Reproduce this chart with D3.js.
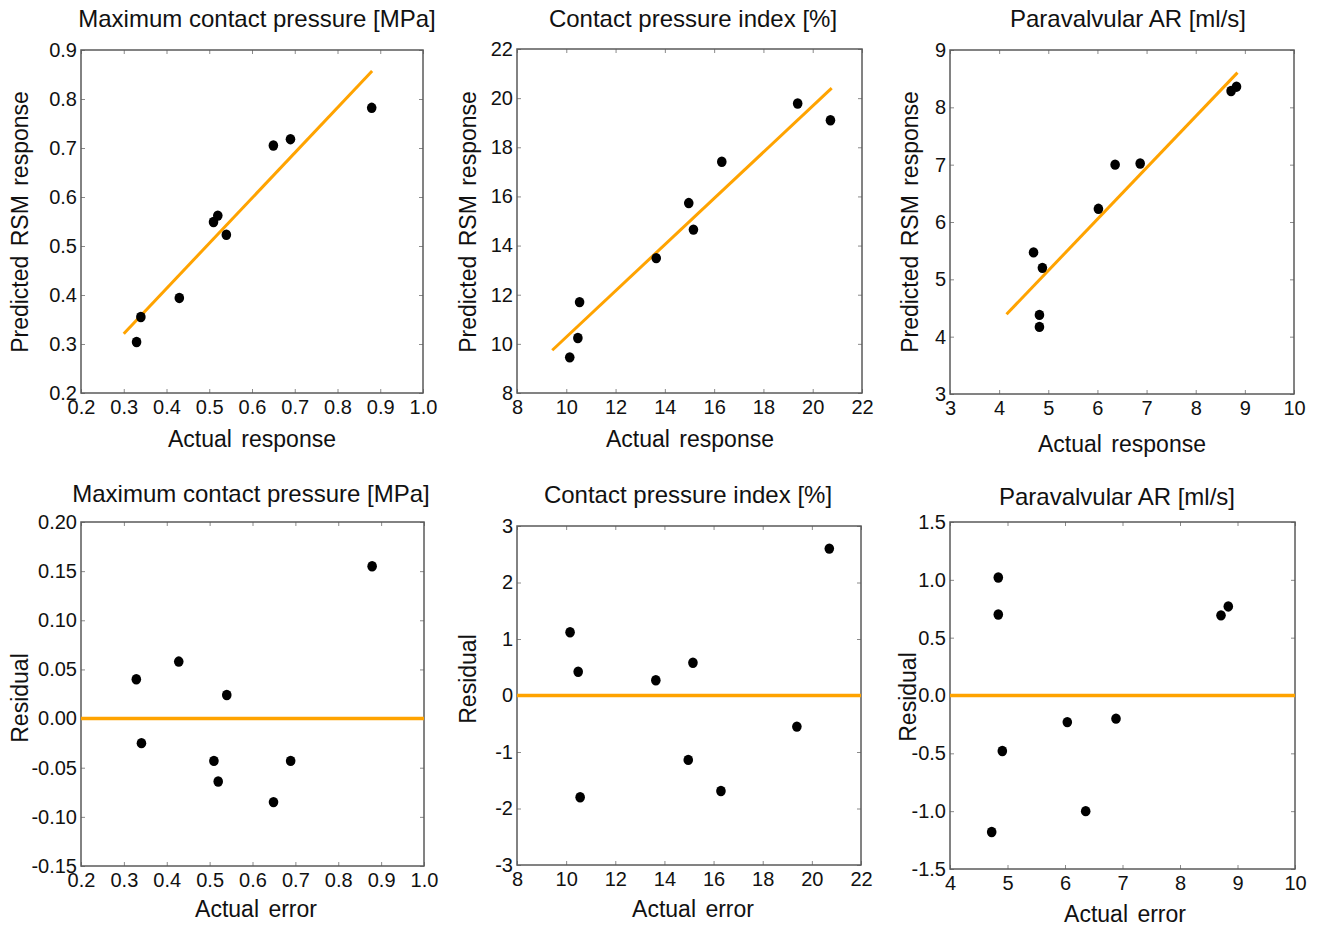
<!DOCTYPE html>
<html>
<head>
<meta charset="utf-8">
<script src="https://cdn.jsdelivr.net/npm/d3@7"></script>
<style>
    html, body { margin: 0; padding: 0; background: #fff; }
    svg { display: block; font-family: "Liberation Sans", Arial, sans-serif; }
</style>
</head>
<body>
<svg id="chart" width="1319" height="927"></svg>
<script>
// RSM fit quality: predicted vs actual (top) and residuals (bottom)

// ---- data ----
const mcpActual    = [0.33, 0.34, 0.43, 0.51, 0.52, 0.54, 0.65, 0.69, 0.88];
const mcpPredicted = [0.304, 0.355, 0.394, 0.549, 0.562, 0.523, 0.705, 0.718, 0.782];
const mcpFit       = [[0.30, 0.321], [0.881, 0.857]];
const mcpErrX      = [0.329, 0.341, 0.428, 0.51, 0.52, 0.54, 0.649, 0.689, 0.879];
const mcpResidual  = [0.040, -0.025, 0.058, -0.043, -0.064, 0.024, -0.085, -0.043, 0.155];

const cpiActual    = [10.14, 10.47, 10.54, 13.65, 14.97, 15.16, 16.31, 19.39, 20.72];
const cpiPredicted = [9.45, 10.24, 11.70, 13.49, 15.73, 14.65, 17.41, 19.78, 19.10];
const cpiFit       = [[9.43, 9.74], [20.77, 20.41]];
const cpiErrX      = [10.16, 10.49, 10.57, 13.65, 14.97, 15.16, 16.30, 19.39, 20.71];
const cpiResidual  = [1.12, 0.42, -1.80, 0.27, -1.14, 0.58, -1.69, -0.55, 2.60];

const parActual    = [4.70, 4.88, 4.82, 4.82, 6.02, 6.36, 6.87, 8.72, 8.83];
const parPredicted = [5.47, 5.20, 4.38, 4.17, 6.23, 7.00, 7.02, 8.285, 8.36];
const parFit       = [[4.15, 4.39], [8.85, 8.605]];
const parErrX      = [4.725, 4.84, 4.84, 4.91, 6.04, 6.36, 6.887, 8.713, 8.84];
const parResidual  = [-1.18, 1.02, 0.70, -0.48, -0.23, -1.00, -0.20, 0.693, 0.77];

// ---- tick values ----
const mcpTicksX    = [0.2, 0.3, 0.4, 0.5, 0.6, 0.7, 0.8, 0.9, 1.0];
const mcpTicksY    = [0.2, 0.3, 0.4, 0.5, 0.6, 0.7, 0.8, 0.9];
const mcpResTicksY = [-0.15, -0.10, -0.05, 0, 0.05, 0.10, 0.15, 0.20];
const cpiTicks     = [8, 10, 12, 14, 16, 18, 20, 22];
const cpiResTicksY = [-3, -2, -1, 0, 1, 2, 3];
const parTicksX    = [3, 4, 5, 6, 7, 8, 9, 10];
const parTicksY    = [3, 4, 5, 6, 7, 8, 9];
const parResTicksX = [4, 5, 6, 7, 8, 9, 10];
const parResTicksY = [-1.5, -1.0, -0.5, 0, 0.5, 1.0, 1.5];

const titles = ['Maximum contact pressure [MPa]', 'Contact pressure index [%]', 'Paravalvular AR [ml/s]'];

const ORANGE = '#ffa300';
const fmt = d3.formatLocale({ decimal: '.', thousands: ',', grouping: [3], currency: ['', ''], minus: '-' }).format;

const panels = [
    // top row
    { box: [81, 50, 423, 393], title: titles[0], titleX: 257, titleY: 27,
      xDom: [0.2, 1.0], yDom: [0.2, 0.9], xt: mcpTicksX, yt: mcpTicksY, xf: fmt('.1f'), yf: fmt('.1f'),
      xLab: 'Actual response', xLabX: 252, xLabY: 447, yLab: 'Predicted RSM response', yLabX: 28, yLabY: 222,
      xs: mcpActual, ys: mcpPredicted, fit: mcpFit },
    { box: [517, 49, 862, 393], title: titles[1], titleX: 693, titleY: 27,
      xDom: [8, 22], yDom: [8, 22], xt: cpiTicks, yt: cpiTicks, xf: fmt('d'), yf: fmt('d'),
      xLab: 'Actual response', xLabX: 690, xLabY: 447, yLab: 'Predicted RSM response', yLabX: 476, yLabY: 222,
      xs: cpiActual, ys: cpiPredicted, fit: cpiFit },
    { box: [950, 50, 1294, 394], title: titles[2], titleX: 1128, titleY: 27,
      xDom: [3, 10], yDom: [3, 9], xt: parTicksX, yt: parTicksY, xf: fmt('d'), yf: fmt('d'),
      xLab: 'Actual response', xLabX: 1122, xLabY: 452, yLab: 'Predicted RSM response', yLabX: 918, yLabY: 222,
      xs: parActual, ys: parPredicted, fit: parFit },
    // bottom row
    { box: [81, 522, 424, 866], title: titles[0], titleX: 251, titleY: 502,
      xDom: [0.2, 1.0], yDom: [-0.15, 0.20], xt: mcpTicksX, yt: mcpResTicksY, xf: fmt('.1f'), yf: fmt('.2f'),
      xLab: 'Actual error', xLabX: 256, xLabY: 917, yLab: 'Residual', yLabX: 28, yLabY: 698,
      xs: mcpErrX, ys: mcpResidual, zero: true },
    { box: [517, 526, 861, 865], title: titles[1], titleX: 688, titleY: 503,
      xDom: [8, 22], yDom: [-3, 3], xt: cpiTicks, yt: cpiResTicksY, xf: fmt('d'), yf: fmt('d'),
      xLab: 'Actual error', xLabX: 693, xLabY: 917, yLab: 'Residual', yLabX: 476, yLabY: 679,
      xs: cpiErrX, ys: cpiResidual, zero: true },
    { box: [950, 522, 1295, 869], title: titles[2], titleX: 1117, titleY: 505,
      xDom: [4, 10], yDom: [-1.5, 1.5], xt: parResTicksX, yt: parResTicksY, xf: fmt('d'), yf: fmt('.1f'),
      xLab: 'Actual error', xLabX: 1125, xLabY: 922, yLab: 'Residual', yLabX: 916, yLabY: 697,
      xs: parErrX, ys: parResidual, zero: true }
];

const svg = d3.select('#chart');

function drawPanel(p) {
    const [x0, y0, x1, y1] = p.box;
    const x = d3.scaleLinear().domain(p.xDom).range([x0, x1]);
    const y = d3.scaleLinear().domain(p.yDom).range([y1, y0]);
    const g = svg.append('g');

    // inward ticks on all four sides
    const styleAxis = sel => {
        sel.select('.domain').remove();
        sel.selectAll('line').attr('stroke', '#8a8a8a').attr('stroke-width', 1);
        sel.selectAll('text').attr('font-size', '20px').attr('fill', '#111')
            .attr('font-family', '"Liberation Sans", Arial, sans-serif');
    };
    g.append('g').attr('transform', `translate(0,${y1})`)
        .call(d3.axisBottom(x).tickValues(p.xt).tickFormat(p.xf).tickSize(-4).tickPadding(7))
        .call(styleAxis);
    g.append('g').attr('transform', `translate(0,${y0})`)
        .call(d3.axisTop(x).tickValues(p.xt).tickFormat('').tickSize(-4))
        .call(styleAxis);
    g.append('g').attr('transform', `translate(${x0},0)`)
        .call(d3.axisLeft(y).tickValues(p.yt).tickFormat(p.yf).tickSize(-4).tickPadding(4))
        .call(styleAxis);
    g.append('g').attr('transform', `translate(${x1},0)`)
        .call(d3.axisRight(y).tickValues(p.yt).tickFormat('').tickSize(-4))
        .call(styleAxis);

    // frame
    g.append('rect')
        .attr('x', x0).attr('y', y0)
        .attr('width', x1 - x0).attr('height', y1 - y0)
        .attr('fill', 'none')
        .attr('stroke', '#5a5a5a')
        .attr('stroke-width', 1.5);

    // fit line or zero line
    if (p.fit) {
        g.append('line')
            .attr('x1', x(p.fit[0][0])).attr('y1', y(p.fit[0][1]))
            .attr('x2', x(p.fit[1][0])).attr('y2', y(p.fit[1][1]))
            .attr('stroke', ORANGE).attr('stroke-width', 3);
    }
    if (p.zero) {
        g.append('line')
            .attr('x1', x(p.xDom[0])).attr('x2', x(p.xDom[1]))
            .attr('y1', y(0)).attr('y2', y(0))
            .attr('stroke', ORANGE).attr('stroke-width', 3.5);
    }

    // points
    g.append('g').selectAll('ellipse')
        .data(p.xs.map((v, i) => [v, p.ys[i]]))
        .join('ellipse')
        .attr('cx', d => x(d[0]))
        .attr('cy', d => y(d[1]))
        .attr('rx', 4.8)
        .attr('ry', 5.2)
        .attr('fill', '#000');

    // texts
    g.append('text')
        .attr('x', p.titleX).attr('y', p.titleY)
        .attr('text-anchor', 'middle')
        .attr('font-size', '24px')
        .attr('fill', '#111')
        .text(p.title);

    g.append('text')
        .attr('x', p.xLabX).attr('y', p.xLabY)
        .attr('text-anchor', 'middle')
        .attr('font-size', '23px')
        .attr('word-spacing', '3px')
        .attr('fill', '#111')
        .text(p.xLab);

    g.append('text')
        .attr('transform', `translate(${p.yLabX},${p.yLabY}) rotate(-90)`)
        .attr('text-anchor', 'middle')
        .attr('font-size', '23px')
        .attr('word-spacing', '3px')
        .attr('fill', '#111')
        .text(p.yLab);
}

panels.forEach(drawPanel);
</script>
</body>
</html>
